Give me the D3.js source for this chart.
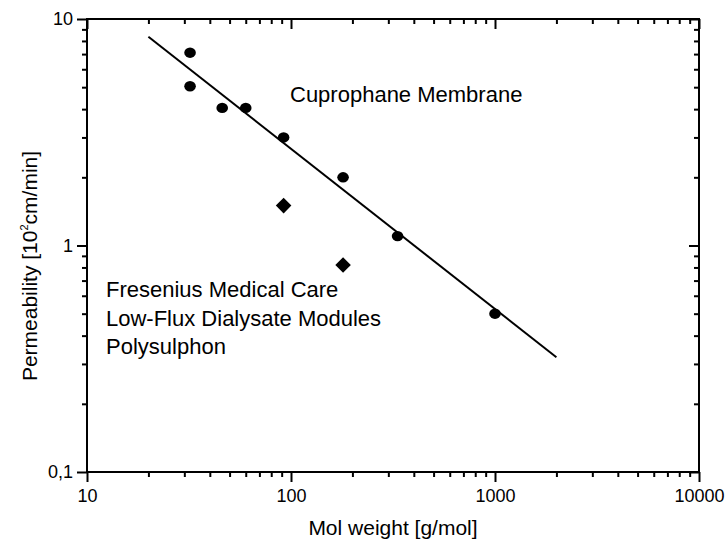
<!DOCTYPE html>
<html>
<head>
<meta charset="utf-8">
<script src="https://cdn.jsdelivr.net/npm/d3@7"></script>
<style>
  body { margin: 0; background: #fff; }
  svg text { font-family: "Liberation Sans", Arial, sans-serif; fill: #000; }
  .axis path, .axis line { stroke: #000; stroke-width: 2; }
  .axis .domain { display: none; }
</style>
</head>
<body>
<svg id="svg1" width="727" height="546"></svg>
<script>
// data
var mwCupro = [32, 32, 46, 60, 92, 180, 333, 1000];
var permCupro = [7.1, 5.05, 4.05, 4.05, 3.0, 2.0, 1.1, 0.5];
var mwFresenius = [92, 180];
var permFresenius = [1.5, 0.82];
var fitMw = [20, 2000];
var fitPerm = [8.35, 0.321];
var xTickValues = [10, 100, 1000, 10000];
var xTickLabels = ["10", "100", "1000", "10000"];
var yTickValues = [0.1, 1, 10];
var yTickLabels = ["0,1", "1", "10"];

var plotLeft = 87, plotRight = 699, plotTop = 19, plotBottom = 472;

var svg = d3.select('#svg1');

var scaleX = d3.scaleLog().domain([10, 10000]).range([plotLeft, plotRight]);
var scaleY = d3.scaleLog().domain([0.1, 10]).range([plotBottom, plotTop]);

var xMinor = scaleX.ticks().filter(function(d){ return xTickValues.indexOf(d) < 0; });
var yMinor = scaleY.ticks().filter(function(d){ return yTickValues.indexOf(d) < 0; });

function xLabel(d){ return xTickLabels[xTickValues.indexOf(d)]; }
function yLabel(d){ return yTickLabels[yTickValues.indexOf(d)]; }

// bottom axis
svg.append('g').attr('class', 'axis').attr('transform', 'translate(0,' + plotBottom + ')')
    .call(d3.axisBottom(scaleX).tickValues(xMinor).tickSize(5).tickFormat(''));
svg.append('g').attr('class', 'axis xmajor').attr('transform', 'translate(0,' + plotBottom + ')')
    .call(d3.axisBottom(scaleX).tickValues(xTickValues).tickSize(10).tickPadding(7).tickFormat(xLabel));

// top axis (ticks pointing down)
svg.append('g').attr('class', 'axis').attr('transform', 'translate(0,' + plotTop + ')')
    .call(d3.axisBottom(scaleX).tickValues(xMinor).tickSize(5).tickFormat(''));
svg.append('g').attr('class', 'axis').attr('transform', 'translate(0,' + plotTop + ')')
    .call(d3.axisBottom(scaleX).tickValues(xTickValues).tickSize(10).tickFormat(''));

// left axis
svg.append('g').attr('class', 'axis').attr('transform', 'translate(' + plotLeft + ',0)')
    .call(d3.axisLeft(scaleY).tickValues(yMinor).tickSize(5).tickFormat(''));
svg.append('g').attr('class', 'axis ymajor').attr('transform', 'translate(' + plotLeft + ',0)')
    .call(d3.axisLeft(scaleY).tickValues(yTickValues).tickSize(10).tickPadding(4).tickFormat(yLabel));

// right axis (ticks pointing left)
svg.append('g').attr('class', 'axis').attr('transform', 'translate(' + plotRight + ',0)')
    .call(d3.axisLeft(scaleY).tickValues(yMinor).tickSize(5).tickFormat(''));
svg.append('g').attr('class', 'axis').attr('transform', 'translate(' + plotRight + ',0)')
    .call(d3.axisLeft(scaleY).tickValues(yTickValues).tickSize(10).tickFormat(''));

svg.selectAll('.xmajor text, .ymajor text').style('font-size', '18px');

// frame
svg.append('rect')
    .attr('x', plotLeft).attr('y', plotTop)
    .attr('width', plotRight - plotLeft).attr('height', plotBottom - plotTop)
    .attr('fill', 'none').attr('stroke', '#000').attr('stroke-width', 2);

// fitted line
svg.append('line')
    .attr('x1', scaleX(fitMw[0])).attr('y1', scaleY(fitPerm[0]))
    .attr('x2', scaleX(fitMw[1])).attr('y2', scaleY(fitPerm[1]))
    .attr('stroke', '#000').attr('stroke-width', 2);

// cuprophane points
svg.selectAll('.cupro')
    .data(mwCupro)
    .enter()
    .append('ellipse')
    .attr('class', 'cupro')
    .attr('cx', function(d){ return scaleX(d); })
    .attr('cy', function(d, i){ return scaleY(permCupro[i]); })
    .attr('rx', 5.8)
    .attr('ry', 5.2)
    .attr('fill', '#000');

// fresenius diamonds
svg.selectAll('.fres')
    .data(mwFresenius)
    .enter()
    .append('path')
    .attr('class', 'fres')
    .attr('d', d3.symbol().type(d3.symbolSquare).size(121))
    .attr('transform', function(d, i){
        return 'translate(' + scaleX(d) + ',' + scaleY(permFresenius[i]) + ') rotate(45)';
    })
    .attr('fill', '#000');

// annotations
svg.append('text')
    .attr('x', 290).attr('y', 102)
    .style('font-size', '22px')
    .text('Cuprophane Membrane');

var fresLines = ['Fresenius Medical Care', 'Low-Flux Dialysate Modules', 'Polysulphon'];
svg.selectAll('.fresText')
    .data(fresLines)
    .enter()
    .append('text')
    .attr('class', 'fresText')
    .attr('x', 106)
    .attr('y', function(d, i){ return 297 + i * 28.5; })
    .style('font-size', '22px')
    .text(function(d){ return d; });

// axis titles
svg.append('text')
    .attr('x', (plotLeft + plotRight) / 2).attr('y', 535)
    .attr('text-anchor', 'middle')
    .style('font-size', '21px')
    .text('Mol weight [g/mol]');

var yTitle = svg.append('text')
    .attr('transform', 'translate(37,' + 266 + ') rotate(-90)')
    .attr('text-anchor', 'middle')
    .style('font-size', '21px');
yTitle.append('tspan').text('Permeability [10');
yTitle.append('tspan').attr('dy', -9).style('font-size', '11px').text('2');
yTitle.append('tspan').attr('dy', 9).text('cm/min]');
</script>
</body>
</html>
